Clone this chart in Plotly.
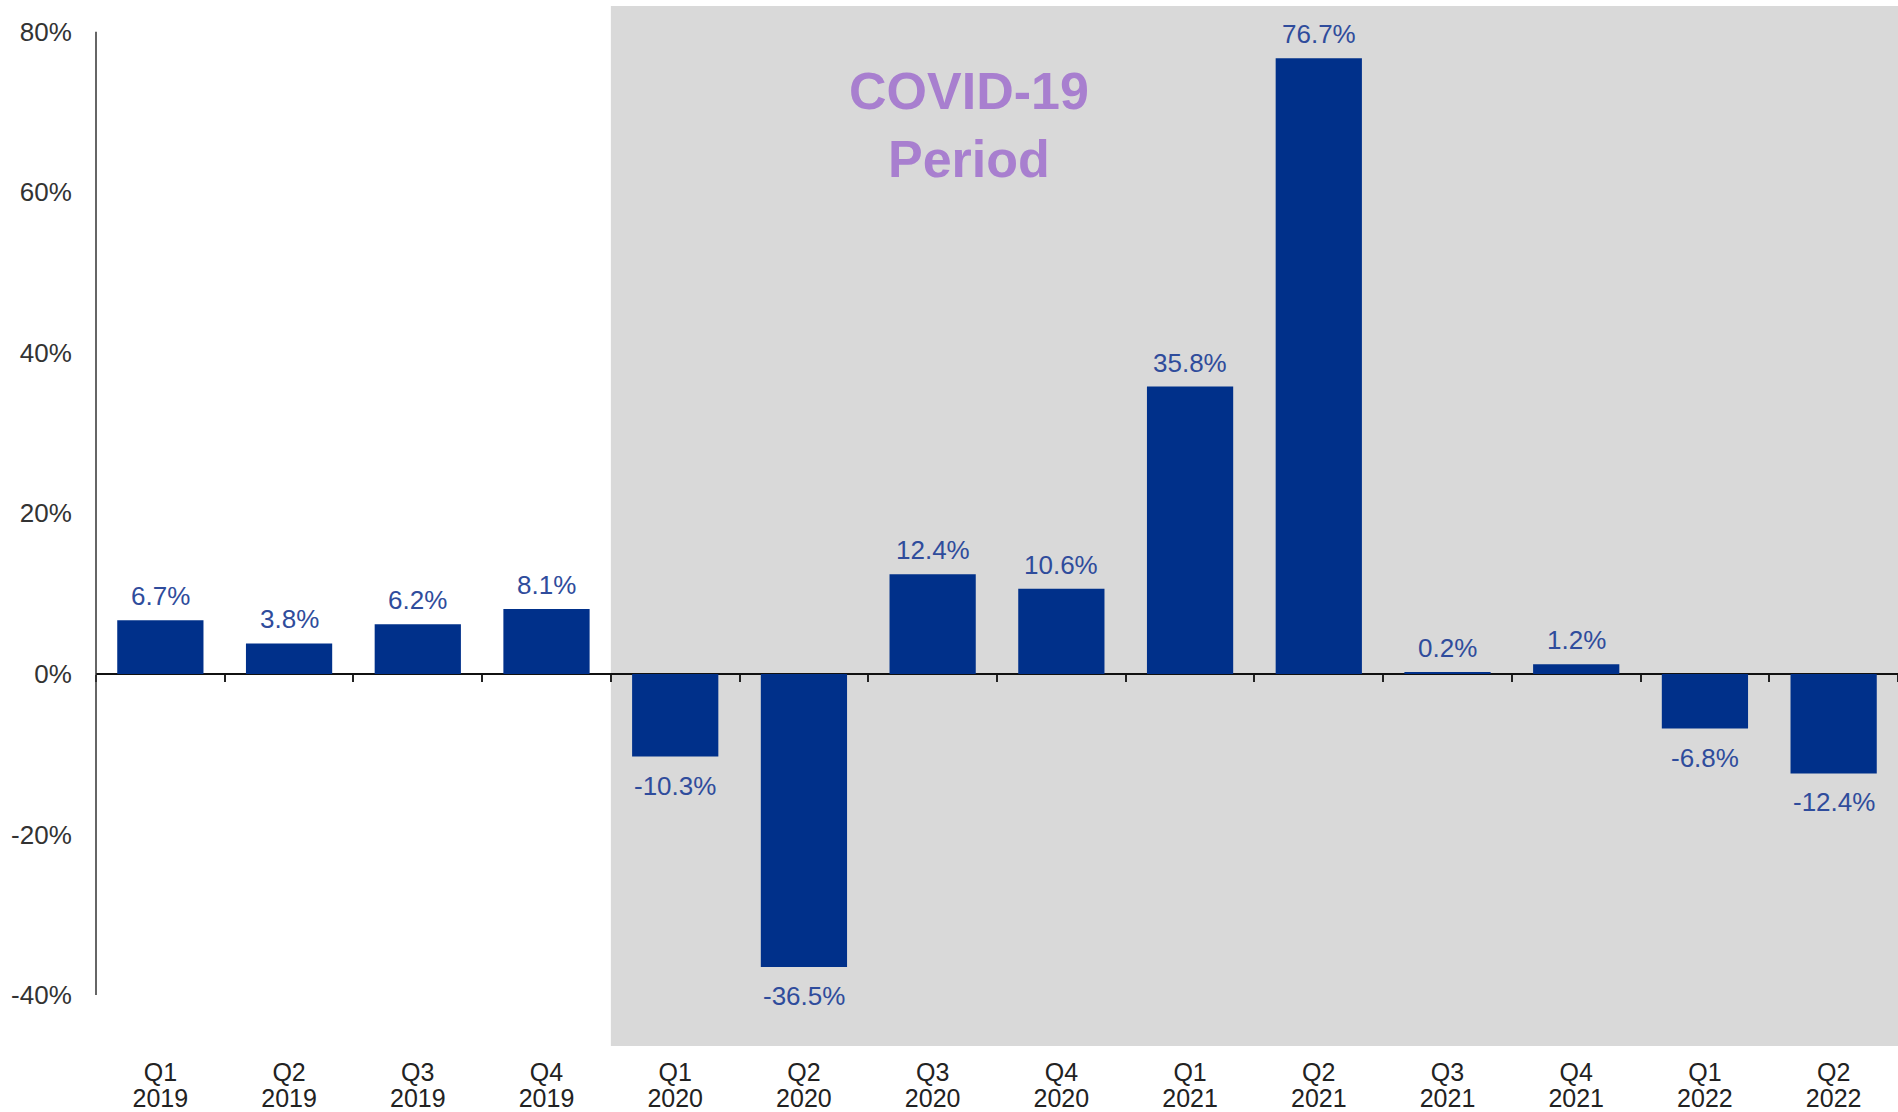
import plotly.graph_objects as go

quarter_names = ["Q1", "Q2", "Q3", "Q4", "Q1", "Q2", "Q3", "Q4",
                 "Q1", "Q2", "Q3", "Q4", "Q1", "Q2"]
years = ["2019", "2019", "2019", "2019", "2020", "2020", "2020", "2020",
         "2021", "2021", "2021", "2021", "2022", "2022"]
growth = [6.7, 3.8, 6.2, 8.1, -10.3, -36.5, 12.4, 10.6, 35.8, 76.7, 0.2, 1.2, -6.8, -12.4]
covid_start = 3.5  # boundary between Q4 2019 and Q1 2020

y_ticks = [-40, -20, 0, 20, 40, 60, 80]
y_tick_text = ["-40%", "-20%", "0%", "20%", "40%", "60%", "80%"]
y_min, y_max = -46.35, 83.2

bar_color = "#00308A"
label_color = "#2F4C9C"
font = "Liberation Sans, Arial, sans-serif"

idx = list(range(len(growth)))
x_range = [-0.5, len(idx) - 0.5]

fig = go.Figure()
fig.add_trace(go.Bar(x=idx, y=growth, marker_color=bar_color, marker_line_width=0,
                     hoverinfo="skip", showlegend=False))
# invisible helpers so the extra axes get drawn
fig.add_trace(go.Scatter(x=x_range, y=[0, 0], xaxis="x2", mode="none",
                         hoverinfo="skip", showlegend=False))
fig.add_trace(go.Scatter(x=x_range, y=[0, 0], xaxis="x3", mode="none",
                         hoverinfo="skip", showlegend=False))

# value labels
for i, v in zip(idx, growth):
    fig.add_annotation(x=i, y=v, xref="x", yref="y", text=f"{v:.1f}%", showarrow=False,
                       yshift=24 if v >= 0 else -29,
                       font=dict(family=font, size=26, color=label_color))

# COVID shaded period
fig.add_shape(type="rect", xref="x", yref="paper", x0=covid_start, x1=x_range[1],
              y0=0, y1=1, fillcolor="#D9D9D9", line_width=0, layer="below")
fig.add_annotation(x=6.28, y=68.4, xref="x", yref="y", text="COVID-19<br>Period",
                   showarrow=False, font=dict(family=font, size=52, color="#A87FCF", weight="bold"))

# y axis line from -40% to 80%
fig.add_shape(type="line", xref="paper", yref="y", x0=0, x1=0, y0=y_ticks[0], y1=y_ticks[-1],
              line=dict(color="#333333", width=1.5))

zero_pos = (0 - y_min) / (y_max - y_min)
hidden_ticks = dict(showgrid=False, zeroline=False, showline=False, automargin=False,
                    ticks="outside", tickcolor="rgba(0,0,0,0)",
                    tickfont=dict(size=25, color="#222222"))

fig.update_layout(
    width=1898, height=1112,
    margin=dict(l=96, r=0, t=6, b=66),
    plot_bgcolor="white", paper_bgcolor="white",
    bargap=0.33,
    font=dict(family=font),
    xaxis=dict(range=x_range, tickvals=idx, ticktext=quarter_names, ticklen=4, **hidden_ticks),
    xaxis3=dict(overlaying="x", anchor="y", side="bottom", range=x_range,
                tickvals=idx, ticktext=years, ticklen=30, **hidden_ticks),
    xaxis2=dict(overlaying="x", anchor="free", position=zero_pos, automargin=False,
                range=x_range, tickvals=[i - 0.5 for i in idx] + [x_range[1]],
                showticklabels=False, showgrid=False, zeroline=False, showline=False,
                ticks="outside", ticklen=7, tickwidth=1.5, tickcolor="#222222"),
    yaxis=dict(range=[y_min, y_max], tickvals=y_ticks, ticktext=y_tick_text,
               showgrid=False, showline=False, zeroline=True, automargin=False,
               zerolinecolor="#111111", zerolinewidth=1.5,
               ticks="outside", ticklen=18, tickcolor="rgba(0,0,0,0)",
               tickfont=dict(size=26, color="#333333")),
)

fig.write_html("out.html", config={"displayModeBar": False},
               post_script="document.body.style.margin='0';")
